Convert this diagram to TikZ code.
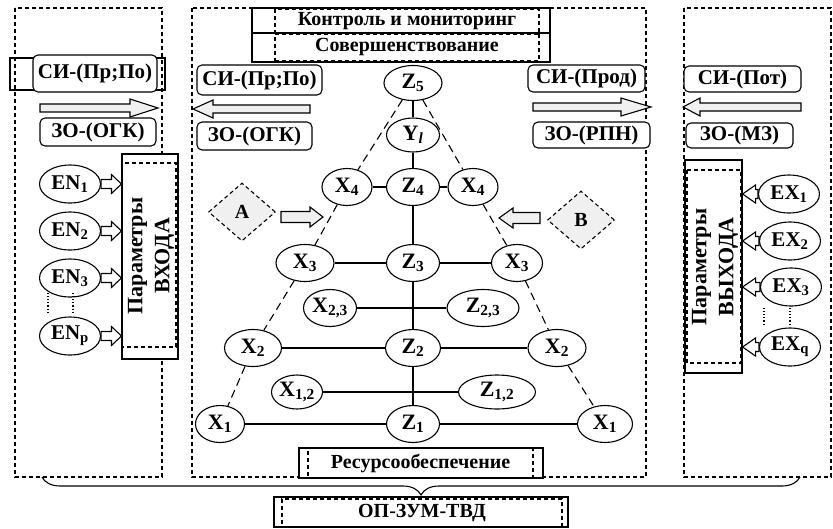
\documentclass[tikz,border=0pt]{standalone}
\usepackage{fontspec}
\setmainfont{Liberation Serif}
\usetikzlibrary{shapes.geometric,decorations.pathreplacing,calc}
% horizontal block arrow between two named points: [style]{from}{to}{body half}{head half}{head length}
\newcommand\blockarr[6][]{%
  \draw[#1] let \p1=(#2), \p2=(#3), \n1={sign(\x2-\x1)} in
    (\x1,{\y1+#4}) -- ({\x2-\n1*#6},{\y1+#4}) -- ({\x2-\n1*#6},{\y1+#5}) -- (\x2,\y1)
    -- ({\x2-\n1*#6},{\y1-#5}) -- ({\x2-\n1*#6},{\y1-#4}) -- (\x1,{\y1-#4}) -- cycle;}
\begin{document}
\begin{tikzpicture}[x=1pt,y=-1pt,
  font=\fontsize{20}{24}\selectfont\bfseries,
  lw/.style={line width=1.1pt},
  panel/.style={draw, line width=1.1pt, dash pattern=on 4pt off 3pt},
  sbox/.style={draw, line width=1.1pt, inner sep=0pt},
  dbox/.style={draw, line width=1.1pt, dash pattern=on 4pt off 3pt, inner sep=0pt},
  rbox/.style={draw, line width=1.1pt, rounded corners=5pt, inner sep=0pt, fill=white, font=\fontsize{21}{24}\selectfont\bfseries},
  ell/.style={draw, ellipse, line width=1.1pt, inner sep=0pt, minimum height=37pt, minimum width=53pt, fill=white, font=\fontsize{22}{24}\selectfont\bfseries},
  eio/.style={ell, minimum width=61pt, minimum height=38pt, font=\fontsize{21}{24}\selectfont\bfseries},
  tedge/.style={line width=1.1pt},
  dedge/.style={line width=1.1pt, dash pattern=on 8pt off 5pt},
  big/.style={draw, line width=1.1pt, fill=gray!12},
  hol/.style={draw, line width=1.1pt, fill=white},
  dia/.style={diamond, draw, line width=1.1pt, dash pattern=on 4pt off 3pt, fill=gray!12, inner sep=0pt, minimum width=67pt, minimum height=58pt},
  rot/.style={rotate=90, align=center, font=\fontsize{22}{27}\selectfont\bfseries}
]
\useasboundingbox (0,0) rectangle (833,528);

% panels
\draw[panel] (15,8) rectangle (162,477);
\draw[panel] (192,8) rectangle (646,477);
\draw[panel] (684,8) rectangle (831,477);

% top boxes
\node[sbox, minimum width=298pt, minimum height=25pt] (konbg) at (401,20.5) {};
\node[dbox, minimum width=264pt, minimum height=25pt] (kon) at (407,21.5) {Контроль и мониторинг};
\node[sbox, minimum width=298pt, minimum height=29pt] (sovbg) at (401,47.5) {};
\node[dbox, minimum width=264pt, minimum height=28pt] (sov) at (407,47) {Совершенствование};

% left panel
\node[sbox, minimum width=155pt, minimum height=32pt] (siLbg) at (87.5,74) {};
\node[rbox, minimum width=124pt, minimum height=37pt] (siL) at (95,73.5) {СИ-(Пр;По)};
\coordinate (aLs) at (40,108); \coordinate (aLe) at (158,108);
\blockarr[big]{aLs}{aLe}{4pt}{9pt}{28pt}
\node[rbox, minimum width=116pt, minimum height=28pt] (zoL) at (98,132) {ЗО-(ОГК)};

% center panel top
\node[rbox, minimum width=125pt, minimum height=30pt] (siC) at (259.5,80) {СИ-(Пр;По)};
\coordinate (aCs) at (310,109); \coordinate (aCe) at (193,109);
\blockarr[big]{aCs}{aCe}{4pt}{9pt}{20pt}
\node[rbox, minimum width=115pt, minimum height=28pt] (zoC) at (254.5,136) {ЗО-(ОГК)};

\node[rbox, minimum width=117pt, minimum height=27pt] (siP) at (586.5,78.5) {СИ-(Прод)};
\coordinate (aPs) at (533,107); \coordinate (aPe) at (651,107);
\blockarr[big]{aPs}{aPe}{4pt}{9pt}{30pt}
\node[rbox, minimum width=117pt, minimum height=26pt] (zoR) at (591.5,135) {ЗО-(РПН)};

% right panel top
\node[rbox, minimum width=117pt, minimum height=26pt] (siPot) at (742.5,79) {СИ-(Пот)};
\coordinate (aRs) at (801,107); \coordinate (aRe) at (683,107);
\blockarr[big]{aRs}{aRe}{4pt}{9pt}{17pt}
\node[rbox, minimum width=107pt, minimum height=25pt] (zoM) at (739.5,135.5) {ЗО-(МЗ)};

% input parameters
\node[sbox, fill=white, minimum width=56pt, minimum height=205pt] (pin) at (150,256.5) {};
\draw[dbox] (122,163) rectangle (176,347);
\node[rot] (pintxt) at (151,256) {Параметры\\ВХОДА};
\node[eio] (EN1) at (70,184) {EN\textsubscript{1}};
\node[eio] (EN2) at (70,231) {EN\textsubscript{2}};
\node[eio] (EN3) at (70,278) {EN\textsubscript{3}};
\node[eio] (ENp) at (70,336) {EN\textsubscript{p}};
\foreach \e in {EN1,EN2,EN3,ENp}
  \blockarr[hol]{\e.east}{\e.east -| pin.west}{4.5pt}{9.5pt}{10pt};
\draw[lw, dotted] (48,293) -- (48,314);
\draw[lw, dotted] (73,293) -- (73,314);

% output parameters
\node[sbox, fill=white, minimum width=57pt, minimum height=213pt] (pout) at (713.5,266.5) {};
\draw[dbox] (687,170) rectangle (741,363);
\node[rot] (pouttxt) at (715,267) {Параметры\\ВЫХОДА};
\node[eio] (EX1) at (789,194) {EX\textsubscript{1}};
\node[eio] (EX2) at (790,241) {EX\textsubscript{2}};
\node[eio] (EX3) at (791,287) {EX\textsubscript{3}};
\node[eio] (EXq) at (790,347) {EX\textsubscript{q}};
\foreach \e in {EX1,EX2,EX3,EXq}
  \blockarr[hol]{\e.west}{\e.west -| pout.east}{4.5pt}{9pt}{13pt};
\draw[lw, dotted] (764,308) -- (764,326);
\draw[lw, dotted] (790,308) -- (790,326);

% tree
\node[ell, minimum width=58pt, minimum height=35pt] (Z5) at (413,83) {Z\textsubscript{5}};
\node[ell, minimum height=34pt] (Yl) at (413,135) {Y\textsubscript{\textit{l}}};
\node[ell] (Z4) at (413,187) {Z\textsubscript{4}};
\node[ell, minimum width=50pt] (X4L) at (347,187) {X\textsubscript{4}};
\node[ell, minimum width=50pt] (X4R) at (473,187) {X\textsubscript{4}};
\node[ell] (Z3) at (413,263) {Z\textsubscript{3}};
\node[ell, minimum width=58pt] (X3L) at (305,263) {X\textsubscript{3}};
\node[ell, minimum width=51pt] (X3R) at (517,263) {X\textsubscript{3}};
\node[ell] (X23) at (330,308) {X\textsubscript{2,3}};
\node[ell, minimum width=72pt] (Z23) at (483,308) {Z\textsubscript{2,3}};
\node[ell, minimum width=55pt] (Z2) at (413,348) {Z\textsubscript{2}};
\node[ell, minimum width=57pt] (X2L) at (253,348) {X\textsubscript{2}};
\node[ell, minimum width=58pt] (X2R) at (557,348) {X\textsubscript{2}};
\node[ell, minimum width=51pt, minimum height=34pt] (X12) at (297,392) {X\textsubscript{1,2}};
\node[ell, minimum width=77pt, minimum height=34pt] (Z12) at (497,392) {Z\textsubscript{1,2}};
\node[ell] (Z1) at (413,424) {Z\textsubscript{1}};
\node[ell, minimum width=49pt] (X1L) at (220,424) {X\textsubscript{1}};
\node[ell, minimum width=55pt] (X1R) at (605,424) {X\textsubscript{1}};

\draw[tedge] (Z5) -- (Yl);
\draw[tedge] (Yl) -- (Z4);
\draw[tedge] (Z4) -- (Z3);
\draw[tedge] (Z3) -- (Z2);
\draw[tedge] (Z2) -- (Z1);
\draw[tedge] (X4L) -- (Z4);
\draw[tedge] (Z4) -- (X4R);
\draw[tedge] (X3L) -- (Z3);
\draw[tedge] (Z3) -- (X3R);
\draw[tedge] (X23) -- (Z23);
\draw[tedge] (X2L) -- (Z2);
\draw[tedge] (Z2) -- (X2R);
\draw[tedge] (X12) -- (Z12);
\draw[tedge] (X1L) -- (Z1);
\draw[tedge] (Z1) -- (X1R);
\draw[dedge] (Z5) -- (X4L);
\draw[dedge] (X4L) -- (X3L);
\draw[dedge] (X3L) -- (X2L);
\draw[dedge] (X2L) -- (X1L);
\draw[dedge] (Z5) -- (X4R);
\draw[dedge] (X4R) -- (X3R);
\draw[dedge] (X3R) -- (X2R);
\draw[dedge] (X2R) -- (X1R);

% diamonds A and B
\node[dia] (A) at (242,212) {A};
\node[dia] (B) at (581,220) {B};
\coordinate (aAs) at (281,217); \coordinate (aAe) at (323,217);
\blockarr[big]{aAs}{aAe}{5.5pt}{10pt}{13pt}
\coordinate (aBs) at (540,218); \coordinate (aBe) at (499,218);
\blockarr[big]{aBs}{aBe}{5.5pt}{10pt}{14pt}

% bottom
\node[sbox, fill=white, minimum width=244pt, minimum height=30pt] (resbg) at (421,463) {};
\node[dbox, minimum width=225pt, minimum height=30pt] (res) at (420.5,463) {Ресурсообеспечение};
\coordinate (brL) at (42,477); \coordinate (brR) at (800,477);
\draw[lw, decorate, decoration={brace, mirror, amplitude=18pt}] (brL) -- (brR);
\node[sbox, fill=white, minimum width=294pt, minimum height=30pt] (opbg) at (421,512) {};
\node[dbox, minimum width=280pt, minimum height=28pt] (op) at (422,513) {ОП-ЗУМ-ТВД};
\end{tikzpicture}
\end{document}
